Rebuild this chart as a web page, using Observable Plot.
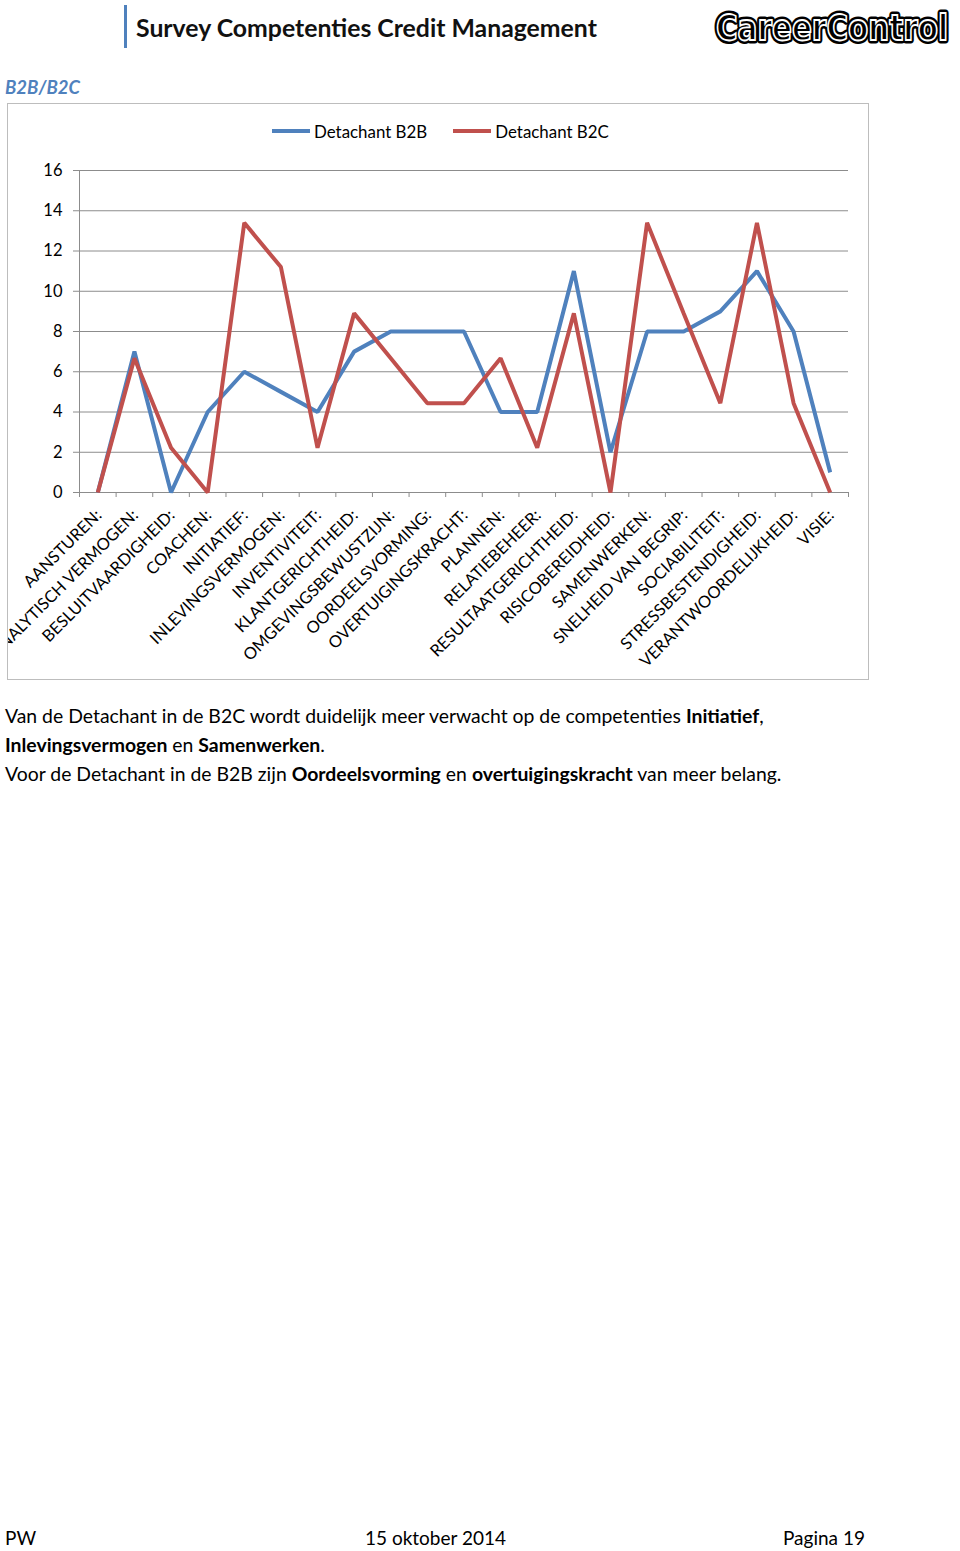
<!DOCTYPE html>
<html><head><meta charset="utf-8">
<script src="https://cdn.jsdelivr.net/npm/d3@7"></script>
<script src="https://cdn.jsdelivr.net/npm/@observablehq/plot@0.6"></script>
<style>
body{margin:0;background:#fff;}
#page{position:relative;width:960px;height:1551px;font-family:Lato,"Open Sans",sans-serif;color:#000;overflow:hidden;background:#fff}
#bar{position:absolute;left:124px;top:5px;width:3px;height:43px;background:#4F81BD}
#title{position:absolute;left:136px;top:12px;font-size:24.8px;font-weight:bold;line-height:32px;white-space:nowrap;color:#111}
#logo{position:absolute;left:711px;top:2px}
#section{position:absolute;left:5px;top:75px;font-size:18.5px;font-weight:bold;font-style:italic;color:#4F81BD;line-height:24px}
#frame{position:absolute;left:7px;top:103px;width:860px;height:575px;border:1.5px solid #bdbdbd}
#legend{position:absolute;left:272px;top:121px;height:20px;display:flex;align-items:center;font-size:16.9px;white-space:nowrap}
#legend .item{display:flex;align-items:center;margin-right:26px}
#legend .sw{width:38px;height:4px;margin-right:4px}
#chart{position:absolute;left:8px;top:150px;width:861px;height:528px;overflow:hidden}
#caption{position:absolute;left:5px;top:701px;font-size:19.4px;line-height:29px;white-space:nowrap}
.foot{position:absolute;top:1525px;font-size:19px;line-height:26px;white-space:nowrap}
</style></head><body>
<div id="page">
  <div id="bar"></div>
  <div id="title">Survey Competenties Credit Management</div>
  <svg id="logo" width="248" height="46">
    <text x="5" y="38" font-family="DejaVu Sans" font-weight="bold" font-size="35" textLength="232" lengthAdjust="spacingAndGlyphs" fill="#000" stroke="#000" stroke-width="7" stroke-linejoin="round">CareerControl</text>
    <text x="5" y="38" font-family="DejaVu Sans" font-weight="bold" font-size="35" textLength="232" lengthAdjust="spacingAndGlyphs" fill="none" stroke="#fff" stroke-width="1.8">CareerControl</text>
  </svg>
  <div id="section">B2B/B2C</div>
  <div id="frame"></div>
  <div id="legend"></div>
  <div id="chart"></div>
  <div id="caption">
    <div>Van de Detachant in de B2C wordt duidelijk meer verwacht op de competenties <b>Initiatief</b>,</div>
    <div><b>Inlevingsvermogen</b> en <b>Samenwerken</b>.</div>
    <div>Voor de Detachant in de B2B zijn <b>Oordeelsvorming</b> en <b>overtuigingskracht</b> van meer belang.</div>
  </div>
  <div class="foot" style="left:5px">PW</div>
  <div class="foot" style="left:365px">15 oktober 2014</div>
  <div class="foot" style="left:783px">Pagina 19</div>
</div>
<script>
const categories = ["AANSTUREN:","ANALYTISCH VERMOGEN:","BESLUITVAARDIGHEID:","COACHEN:","INITIATIEF:","INLEVINGSVERMOGEN:","INVENTIVITEIT:","KLANTGERICHTHEID:","OMGEVINGSBEWUSTZIJN:","OORDEELSVORMING:","OVERTUIGINGSKRACHT:","PLANNEN:","RELATIEBEHEER:","RESULTAATGERICHTHEID:","RISICOBEREIDHEID:","SAMENWERKEN:","SNELHEID VAN BEGRIP:","SOCIABILITEIT:","STRESSBESTENDIGHEID:","VERANTWOORDELIJKHEID:","VISIE:"];
const b2b = [0,7,0,4,6,5,4,7,8,8,8,4,4,11,2,8,8,9,11,8,1];
const b2c = [0,6.67,2.22,0,13.4,11.2,2.22,8.9,6.67,4.44,4.44,6.67,2.22,8.9,0,13.4,8.9,4.44,13.4,4.44,0];
const seriesNames = ["Detachant B2B","Detachant B2C"];
const seriesColors = ["#4F81BD","#C0504D"];
const yTicks = [0,2,4,6,8,10,12,14,16];

const data = categories.flatMap((c,i)=>[
  {cat:c, value:b2b[i], series:seriesNames[0]},
  {cat:c, value:b2c[i], series:seriesNames[1]}
]);

// legend
const legend = document.getElementById("legend");
seriesNames.forEach((n,i)=>{
  const it = document.createElement("div"); it.className="item";
  const sw = document.createElement("div"); sw.className="sw"; sw.style.background=seriesColors[i];
  const tx = document.createElement("span"); tx.textContent=n;
  it.append(sw,tx); legend.append(it);
});

const W=861, H=528, ML=71, MR=21, MT=20, MB=186;
const step = (W-ML-MR)/categories.length;
const grey = "#8c8c8c";
const chart = Plot.plot({
  width:W, height:H, marginLeft:ML, marginRight:MR, marginTop:MT, marginBottom:MB,
  style:{fontFamily:"Lato, sans-serif", fontSize:"16px", color:"#000", background:"transparent"},
  x:{type:"point", domain:categories, padding:0.5, round:false, label:null},
  y:{domain:[0,16], label:null},
  color:{domain:seriesNames, range:seriesColors},
  marks:[
    Plot.gridY(yTicks, {stroke:grey, strokeOpacity:1, strokeWidth:1}),
    Plot.ruleX([categories[0]], {dx:-step/2, y1:0, y2:16, stroke:grey}),
    Plot.ruleY([0], {stroke:grey}),
    Plot.ruleX(categories, {x:d=>d, y1:0, y2:0, insetBottom:-5, dx:-step/2, stroke:grey}),
    Plot.ruleX([categories[categories.length-1]], {x:d=>d, y1:0, y2:0, insetBottom:-5, dx:step/2, stroke:grey}),
    Plot.axisY(yTicks, {tickSize:6, tickPadding:11, stroke:grey, fontSize:16.5, label:null}),
    Plot.axisX({tickRotate:-45, tickSize:0, tickPadding:20, dx:1, fontSize:16.5, label:null}),
    Plot.line(data, {x:"cat", y:"value", z:"series", stroke:"series", strokeWidth:4, strokeLinejoin:"miter", strokeLinecap:"butt"})
  ]
});
document.getElementById("chart").append(chart);
</script>
</body></html>
